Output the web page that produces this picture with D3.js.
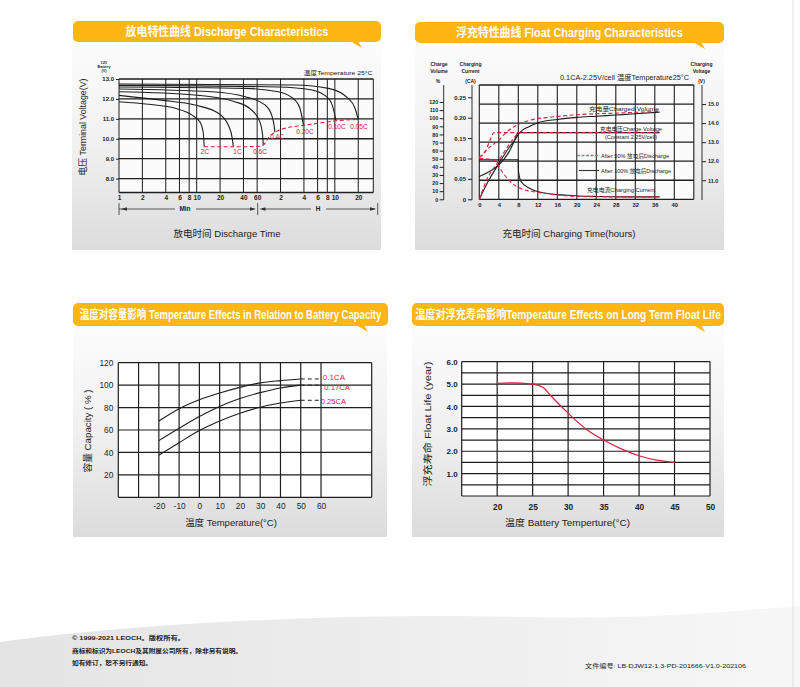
<!DOCTYPE html>
<html>

<head>
    <meta charset="utf-8" />
    <title>LEOCH battery characteristics</title>
    <style>
        body {
            margin: 0;
            background: #fff;
        }

        svg {
            display: block;
            font-family: "Liberation Sans", Arial, "Noto Sans CJK SC", sans-serif;
        }

        .grid line {
            stroke: #1e1e1e;
        }

        .axis path {
            display: none;
        }

        .axis line {
            stroke: #222;
        }
    </style>
</head>

<body>
    <svg id="sheet" width="800" height="687"></svg>
    <script src="https://cdnjs.cloudflare.com/ajax/libs/d3/7.8.5/d3.min.js"></script>
    <script>
        // ---- discharge characteristics (minutes -> volts)
        var dischargeRates = ["2C", "1C", "0.6C", "0.4C", "0.20C", "0.10C", "0.05C"];
        var dischargeMinutes = [
            [1, 2.4, 5.3, 8.6, 11, 12.1, 12.5],
            [1, 3.5, 9.5, 19, 25.5, 28.7, 29.6],
            [1, 9.5, 31, 51, 65, 70.5, 72],
            [1, 15.6, 42, 75.6, 92, 98.9, 101.6],
            [1, 42, 112, 184, 213, 229, 236],
            [1, 112, 303, 495, 572, 618],
            [1, 184, 495, 890, 1090, 1200]
        ];
        var dischargeVolts = [
            [11.86, 11.73, 11.53, 11.2, 10.85, 10.35, 9.6],
            [12.18, 11.94, 11.69, 11.28, 10.69, 10.02, 9.6],
            [12.36, 12.2, 11.86, 11.44, 10.85, 10.19, 9.68],
            [12.5, 12.36, 12.11, 11.7, 11.2, 10.69, 10.32],
            [12.6, 12.53, 12.36, 11.94, 11.53, 11.0, 10.69],
            [12.68, 12.6, 12.45, 12.03, 11.53, 10.94],
            [12.75, 12.7, 12.53, 12.03, 11.53, 10.97]
        ];
        var endMinutes = [12.5, 40, 65, 72, 78, 84, 95, 110, 150, 236, 400, 618, 1200];
        var endVolts = [9.6, 9.6, 9.62, 9.68, 9.85, 10.05, 10.25, 10.4, 10.56, 10.67, 10.8, 10.9, 10.97];
        var dischargeTicks = [1, 2, 4, 6, 8, 10, 20, 40, 60, 120, 240, 360, 480, 600, 1200];
        var dischargeTickLabels = ["1", "2", "4", "6", "8", "10", "20", "40", "60", "2", "4", "6", "8", "10", "20"];
        var voltTicks = [8, 9, 10, 11, 12, 13];

        // ---- float charging characteristics (hours)
        var hours100Vol = [0, 2, 4, 6, 7.5, 8, 9, 10, 12, 16, 20, 24, 28, 32, 37];
        var vol100 = [0, 24, 44, 63, 75, 80, 86, 89, 94.5, 98.5, 101, 102.5, 104, 105.5, 107.5];
        var hours100Volt = [0, 2, 4, 6, 7, 8, 37];
        var volt100 = [11.2, 11.45, 11.8, 12.45, 12.95, 13.5, 13.5];
        var hours100Cur = [0, 7.95, 8.05, 8.6, 10.3, 13, 18, 24, 30, 37];
        var cur100 = [0.097, 0.097, 0.068, 0.043, 0.027, 0.016, 0.01, 0.007, 0.006, 0.006];
        var hours50Vol = [0, 1.5, 4, 5.6, 7.7, 10.4, 15, 22, 29, 37];
        var vol50 = [51, 61, 73, 83, 91.5, 97.5, 101.5, 105, 106.5, 108.5];
        var hours50Volt = [0, 0.9, 2.2, 3, 37];
        var volt50 = [12.24, 12.36, 13.1, 13.5, 13.5];
        var hours50Cur = [0, 2.5, 3.6, 4.65, 6.4, 8.4, 12, 16, 20, 28, 37];
        var cur50 = [0.1, 0.098, 0.088, 0.068, 0.043, 0.027, 0.017, 0.011, 0.007, 0.006, 0.006];
        var hours50Rise = [0, 1.6, 3.6, 6.4, 7.7];
        var vol50Rise = [0, 25, 44, 70, 80];
        var hourTicks = [0, 4, 8, 12, 16, 20, 24, 28, 32, 36, 40];
        var volumeTicks = [0, 10, 20, 30, 40, 50, 60, 70, 80, 90, 100, 110, 120];
        var currentTicks = [0, 0.05, 0.10, 0.15, 0.20, 0.25];
        var chargeVoltTicks = [11, 12, 13, 14, 15];

        // ---- temperature vs capacity
        var capTemps = [-20, -10, 0, 10, 20, 30, 40, 50];
        var capRates = ["0.1CA", "0.17CA", "0.25CA"];
        var capValues = [
            [68, 79, 87, 93, 98, 102, 104, 105.5],
            [50.5, 61.5, 72, 81, 88, 93.3, 97.5, 100],
            [37.5, 48.7, 59.5, 68, 75, 80.3, 84, 86.5]
        ];
        var capTempTicks = [-20, -10, 0, 10, 20, 30, 40, 50, 60];
        var capTicks = [20, 40, 60, 80, 100, 120];

        // ---- temperature vs float life
        var lifeTemps = [20, 22, 25, 26.5, 27.5, 30, 32.7, 35, 37.9, 40, 42.5, 45];
        var lifeYears = [5.03, 5.05, 5.0, 4.85, 4.5, 3.7, 2.95, 2.5, 2.05, 1.8, 1.6, 1.5];
        var lifeTempTicks = [20, 25, 30, 35, 40, 45, 50];
        var lifeTicks = [1, 2, 3, 4, 5, 6];

        var BANNER = "#fdb614";
        var RED = "#d8203c";
        var INK = "#1e1e1e";

        var svg = d3.select("#sheet");
        var defs = svg.append("defs");

        var cardGrad = defs.append("linearGradient").attr("id", "cardGrad")
            .attr("x1", 0).attr("y1", 0).attr("x2", 0).attr("y2", 1);
        cardGrad.append("stop").attr("offset", "0%").attr("stop-color", "#fcfcfc");
        cardGrad.append("stop").attr("offset", "50%").attr("stop-color", "#f0f0f0");
        cardGrad.append("stop").attr("offset", "100%").attr("stop-color", "#dcdcdc");

        var footGrad = defs.append("linearGradient").attr("id", "footGrad")
            .attr("x1", 0).attr("y1", 0).attr("x2", 1).attr("y2", 0);
        footGrad.append("stop").attr("offset", "0%").attr("stop-color", "#e4e4e4");
        footGrad.append("stop").attr("offset", "100%").attr("stop-color", "#f7f7f7");

        // page decoration
        svg.append("path")
            .attr("d", "M0,642 C150,622 350,613 520,617 C640,620 720,612 800,606 L800,687 L0,687Z")
            .attr("fill", "url(#footGrad)");
        svg.append("line").attr("x1", 793).attr("x2", 793).attr("y1", 0).attr("y2", 687)
            .attr("stroke", "#e2e2e2");

        function card(x, y, w, h) {
            svg.append("rect").attr("x", x).attr("y", y).attr("width", w).attr("height", h)
                .attr("fill", "url(#cardGrad)");
        }

        // banner title: squeezed horizontally to the width it has in the datasheet
        function banner(x, y, w, h, tip, title, titleW) {
            var g = svg.append("g");
            g.append("rect").attr("x", x).attr("y", y).attr("width", w).attr("height", h)
                .attr("rx", 5).attr("fill", BANNER);
            g.append("path")
                .attr("d", "M" + (tip - 12) + "," + (y + h - 1) + "L" + (tip - 4) + "," + (y + h - 1) + "L" + tip + "," + (y + h + 6) + "Z")
                .attr("fill", BANNER);
            var t = g.append("text").attr("x", 0).attr("y", 0)
                .attr("text-anchor", "middle").attr("fill", "#fff")
                .attr("font-size", 12).attr("font-weight", "bold")
                .text(title);
            var natural = t.node().getComputedTextLength();
            var k = Math.min(1, titleW / natural);
            t.attr("transform", "translate(" + (x + w / 2) + "," + (y + h / 2 + 4.5) + ") scale(" + k + ",1)");
        }

        function label(x, y, str, size, opts) {
            opts = opts || {};
            var t = svg.append("text").attr("x", x).attr("y", y)
                .attr("font-size", size)
                .attr("fill", opts.fill || "#222")
                .attr("text-anchor", opts.anchor || "middle")
                .attr("font-weight", opts.weight || "normal")
                .text(str);
            if (opts.width) t.attr("textLength", opts.width).attr("lengthAdjust", "spacingAndGlyphs");
            if (opts.rotate) t.attr("transform", "rotate(-90," + x + "," + y + ")");
            return t;
        }

        function series(xs, ys, xScale, yScale, stroke, dash, width) {
            var pts = xs.map(function(d, i) {
                return [xScale(d), yScale(ys[i])];
            });
            svg.append("path")
                .attr("d", d3.line().curve(d3.curveMonotoneX)(pts))
                .attr("fill", "none")
                .attr("stroke", stroke)
                .attr("stroke-width", width || 1.1)
                .attr("stroke-dasharray", dash || null);
        }

        function gridLines(xVals, yVals, xScale, yScale, wx, wy) {
            var g = svg.append("g").attr("class", "grid");
            var x0 = xScale.range()[0], x1 = xScale.range()[1];
            var y0 = yScale.range()[0], y1 = yScale.range()[1];
            g.selectAll(".v").data(xVals).enter().append("line")
                .attr("x1", xScale).attr("x2", xScale).attr("y1", y0).attr("y2", y1)
                .attr("stroke-width", wx);
            g.selectAll(".h").data(yVals).enter().append("line")
                .attr("x1", x0).attr("x2", x1)
                .attr("y1", yScale).attr("y2", yScale)
                .attr("stroke-width", wy);
        }

        function styleAxis(g, size, weight) {
            g.attr("class", "axis");
            g.selectAll("text").attr("font-size", size).attr("font-weight", weight || "normal")
                .attr("fill", "#222").attr("font-family", "Liberation Sans, Arial, sans-serif");
        }

        // ================= cards and banners
        card(72, 45, 309, 205);
        card(415, 45, 309, 205);
        card(73, 328, 314, 209);
        card(412, 328, 312, 209);

        banner(73, 21, 308, 21, 362, "放电特性曲线 Discharge Characteristics", 203);
        banner(415, 22, 309, 21, 705, "浮充特性曲线 Float Charging Characteristics", 227);
        banner(73, 303, 315, 23, 368, "温度对容量影响 Temperature Effects in Relation to Battery Capacity", 302);
        banner(412, 303, 312, 23, 705, "温度对浮充寿命影响Temperature Effects on Long Term Float Life", 306);

        // ================= discharge characteristics
        var dx = d3.scaleLog().domain([1, 1875]).range([119, 373.3]);
        var dy = d3.scaleLinear().domain([7.3, 13]).range([192.5, 79]);

        svg.append("rect").attr("x", 119).attr("y", 79).attr("width", 254.3).attr("height", 113.5)
            .attr("fill", "#fbfbfb");
        gridLines(dischargeTicks.concat([1875]), voltTicks.concat([7.3]), dx, dy, 1, 1.3);

        dischargeMinutes.forEach(function(m, i) {
            series(m, dischargeVolts[i], dx, dy, INK, null, 1.1);
        });
        series(endMinutes, endVolts, dx, dy, RED, "4,2.5", 1.1);

        var dLabelPos = [[205, 154], [237.5, 154], [260, 154], [277, 139], [305, 134], [337, 129], [359, 128.5]];
        dischargeRates.forEach(function(r, i) {
            label(dLabelPos[i][0], dLabelPos[i][1], r, 6.5, { fill: RED });
        });

        var dAxisY = svg.append("g").attr("transform", "translate(119,0)")
            .call(d3.axisLeft(dy).tickValues(voltTicks).tickFormat(d3.format(".1f")).tickSize(3).tickPadding(2));
        styleAxis(dAxisY, 6, "bold");
        var dAxisX = svg.append("g").attr("transform", "translate(0,192.5)")
            .call(d3.axisBottom(dx).tickValues(dischargeTicks).tickFormat(function(d, i) {
                return dischargeTickLabels[i];
            }).tickSize(0).tickPadding(3));
        styleAxis(dAxisX, 6.5, "bold");

        // Min | H span marks
        var spanG = svg.append("g").attr("stroke", "#333").attr("stroke-width", 0.8);
        [[119, 175], [196, 254], [262, 311], [326, 375]].forEach(function(s) {
            spanG.append("line").attr("x1", s[0]).attr("x2", s[1]).attr("y1", 209).attr("y2", 209);
        });
        [119, 257.7, 377.7].forEach(function(x) {
            spanG.append("line").attr("x1", x).attr("x2", x).attr("y1", 203).attr("y2", 215);
        });
        [[121, 1], [256, -1], [259.5, 1], [376, -1]].forEach(function(a) {
            svg.append("path")
                .attr("d", "M" + a[0] + ",209l" + (a[1] * 6) + ",-1.8v3.6Z")
                .attr("fill", "#333");
        });
        label(185, 211.3, "Min", 6.5, { weight: "bold" });
        label(318, 211.3, "H", 6.5, { weight: "bold" });

        label(227, 236.5, "放电时间 Discharge Time", 9.5, { width: 107 });
        label(86, 127, "电压 Terminal Voltage(V)", 9, { rotate: true, width: 97 });
        label(104, 63.5, "12V", 3.8, { weight: "bold" });
        label(104, 67.8, "Battery", 3.8, { weight: "bold" });
        label(104, 72, "(V)", 3.8, { weight: "bold" });
        label(372.5, 75, "温度Temperature 25°C", 6.2, { anchor: "end", width: 69 });

        // ================= float charging characteristics
        var cx = d3.scaleLinear().domain([0, 44]).range([479.3, 693.8]);
        var cv = d3.scaleLinear().domain([10, 16]).range([199.3, 85]);
        var cc = d3.scaleLinear().domain([0, 0.25]).range([199.3, 97.3]);
        var cq = d3.scaleLinear().domain([0, 120]).range([199.3, 102]);

        svg.append("rect").attr("x", 479.3).attr("y", 85).attr("width", 214.5).attr("height", 114.3)
            .attr("fill", "#fbfbfb");
        gridLines(hourTicks.concat([44]), [10, 11, 12, 13, 14, 15, 16], cx, cv, 1.1, 1.3);

        series(hours100Cur, cur100, cx, cc, INK, null, 1.1);
        series(hours100Volt, volt100, cx, cv, INK, null, 1.1);
        series(hours100Vol, vol100, cx, cq, INK, null, 1.1);
        series(hours50Cur, cur50, cx, cc, RED, "4,2.5", 1.1);
        series(hours50Volt, volt50, cx, cv, RED, "4,2.5", 1.1);
        series(hours50Vol, vol50, cx, cq, RED, "4,2.5", 1.1);
        series(hours50Rise, vol50Rise, cx, cq, RED, "4,2.5", 1.1);

        // side axes
        [[443.7, 85], [472, 85], [702, 85]].forEach(function(a) {
            svg.append("line").attr("x1", a[0]).attr("x2", a[0]).attr("y1", a[1]).attr("y2", 200)
                .attr("stroke", "#333").attr("stroke-width", 1);
        });
        var qAxis = svg.append("g").attr("transform", "translate(443.7,0)")
            .call(d3.axisLeft(cq).tickValues(volumeTicks).tickSize(4).tickPadding(1.5));
        styleAxis(qAxis, 5.3, "bold");
        var cAxis = svg.append("g").attr("transform", "translate(472,0)")
            .call(d3.axisLeft(cc).tickValues(currentTicks).tickFormat(function(d) {
                return d === 0 ? "0" : d3.format(".2f")(d);
            }).tickSize(4).tickPadding(2));
        styleAxis(cAxis, 6, "bold");
        var vAxis = svg.append("g").attr("transform", "translate(702,0)")
            .call(d3.axisRight(cv).tickValues(chargeVoltTicks).tickFormat(d3.format(".1f")).tickSize(4).tickPadding(2));
        styleAxis(vAxis, 5.5, "bold");
        var hAxis = svg.append("g").attr("transform", "translate(0,199.3)")
            .call(d3.axisBottom(cx).tickValues(hourTicks).tickSize(0).tickPadding(4));
        styleAxis(hAxis, 5.8, "bold");

        label(439, 66, "Charge", 5, { weight: "bold" });
        label(439, 72.5, "Volume", 5, { weight: "bold" });
        label(438, 82.5, "%", 5, { weight: "bold" });
        label(470.5, 66, "Charging", 5, { weight: "bold" });
        label(470.5, 72.5, "Current", 5, { weight: "bold" });
        label(470.5, 83, "(CA)", 5, { weight: "bold" });
        label(701.5, 66, "Charging", 5, { weight: "bold" });
        label(701.5, 72.5, "Voltage", 5, { weight: "bold" });
        label(701.5, 83, "(V)", 5, { weight: "bold" });
        label(560, 79.5, "0.1CA-2.25V/cell  温度Temperature25°C", 7, { anchor: "start", width: 129 });

        label(589, 110.5, "充电量Charged  Volume", 6, { anchor: "start", width: 70 });
        label(600, 131, "充电电压Charge Voltage", 5.8, { anchor: "start", width: 62 });
        label(605, 138.5, "(Constant 2.25V/cell)", 5.8, { anchor: "start", width: 52 });
        svg.append("line").attr("x1", 577).attr("x2", 599).attr("y1", 155.5).attr("y2", 155.5)
            .attr("stroke", "#e0607a").attr("stroke-width", 1.4).attr("stroke-dasharray", "3,1.5");
        label(601, 157.5, "After 50% 放电后Discharge", 5.3, { anchor: "start", width: 68 });
        svg.append("line").attr("x1", 579).attr("x2", 599).attr("y1", 170.5).attr("y2", 170.5)
            .attr("stroke", "#333").attr("stroke-width", 1.1);
        label(601, 172.5, "After 100% 放电后Discharge", 5.3, { anchor: "start", width: 70 });
        label(587, 192, "充电电流Charging Current", 5.8, { anchor: "start", width: 68 });

        label(569, 236.5, "充电时间 Charging Time(hours)", 9.5, { width: 133 });

        // ================= temperature vs capacity
        var tx = d3.scaleLinear().domain([-40, 85]).range([118.3, 371.7]);
        var ty = d3.scaleLinear().domain([0, 120]).range([497.3, 362.7]);

        svg.append("rect").attr("x", 118.3).attr("y", 362.7).attr("width", 253.4).attr("height", 134.6)
            .attr("fill", "#fff");
        gridLines([-40, -30, -20, -10, 0, 10, 20, 30, 40, 50, 60, 85], [0, 20, 40, 60, 80, 100, 120], tx, ty, 1.2, 1.2);

        capValues.forEach(function(vals, i) {
            series(capTemps, vals, tx, ty, INK, null, 1.1);
            svg.append("line")
                .attr("x1", tx(50)).attr("x2", tx(60) + 1)
                .attr("y1", ty(vals[vals.length - 1])).attr("y2", ty(vals[vals.length - 1]))
                .attr("stroke", INK).attr("stroke-width", 1).attr("stroke-dasharray", "4,3");
        });
        var capLabelPos = [[322.7, 380.3], [324.3, 390], [320.7, 403.6]];
        capRates.forEach(function(r, i) {
            label(capLabelPos[i][0], capLabelPos[i][1], r, 7.6, { anchor: "start", fill: RED, width: [22.3, 25.7, 25.5][i] });
        });

        var tAxisX = svg.append("g").attr("transform", "translate(0,497.3)")
            .call(d3.axisBottom(tx).tickValues(capTempTicks).tickFormat(function(d) {
                return String(d);
            }).tickSize(0).tickPadding(6));
        styleAxis(tAxisX, 8.3);
        var tAxisY = svg.append("g").attr("transform", "translate(118.3,0)")
            .call(d3.axisLeft(ty).tickValues(capTicks).tickSize(0).tickPadding(5));
        styleAxis(tAxisY, 8.3);

        label(231, 526, "温度 Temperature(°C)", 9.3, { width: 91.7 });
        label(91, 431, "容量 Capacity ( % )", 9.3, { rotate: true, width: 83 });

        // ================= temperature vs float life
        var lx = d3.scaleLinear().domain([15, 50]).range([461.7, 710]);
        var ly = d3.scaleLinear().domain([0, 6]).range([496, 361.7]);

        svg.append("rect").attr("x", 461.7).attr("y", 361.7).attr("width", 248.3).attr("height", 134.3)
            .attr("fill", "#fff");
        gridLines([15, 20, 25, 30, 35, 40, 45, 50], d3.range(0, 6.01, 0.5), lx, ly, 1.2, 1.2);

        series(lifeTemps, lifeYears, lx, ly, RED, null, 1.2);

        var lAxisX = svg.append("g").attr("transform", "translate(0,496)")
            .call(d3.axisBottom(lx).tickValues(lifeTempTicks).tickSize(0).tickPadding(8));
        styleAxis(lAxisX, 8.3, "bold");
        var lAxisY = svg.append("g").attr("transform", "translate(461.7,0)")
            .call(d3.axisLeft(ly).tickValues(lifeTicks).tickFormat(d3.format(".1f")).tickSize(0).tickPadding(4));
        styleAxis(lAxisY, 8, "bold");

        label(567.5, 526, "温度 Battery Temperture(°C)", 9.3, { width: 125 });
        label(431, 424, "浮充寿命  Float Life (year)", 9.3, { rotate: true, width: 125 });

        // ================= footer
        label(72, 640, "© 1999-2021 LEOCH。版权所有。", 6.2, { anchor: "start", weight: "bold", width: 113 });
        label(72, 653, "商标和标识为LEOCH及其附属公司所有，除非另有说明。", 6.2, { anchor: "start", weight: "bold", width: 170 });
        label(72, 664.5, "如有修订，恕不另行通知。", 6.2, { anchor: "start", weight: "bold", width: 80 });
        label(585, 667.5, "文件编号: LB-DJW12-1.3-PD-201666-V1.0-202106", 6.2, { anchor: "start", width: 161 });
    </script>
</body>

</html>
